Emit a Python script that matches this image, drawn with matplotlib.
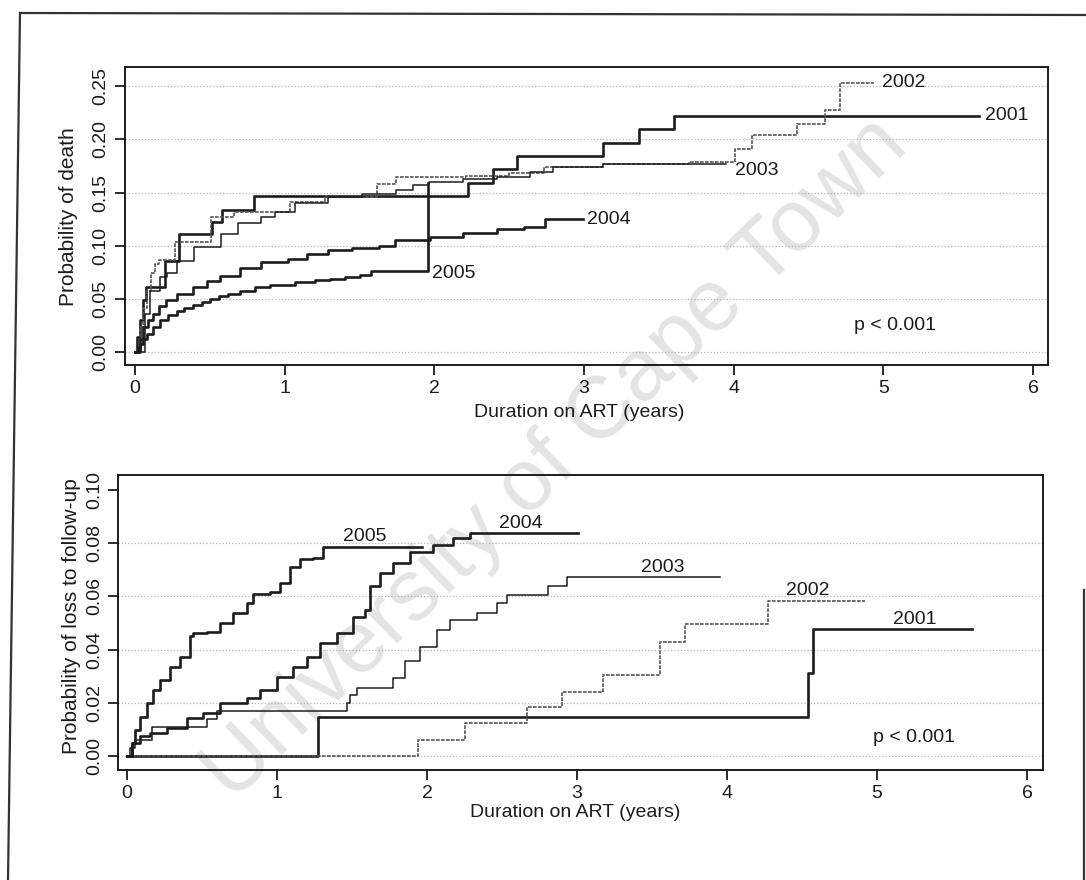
import matplotlib
matplotlib.use("Agg")
import matplotlib.pyplot as plt
from matplotlib.lines import Line2D

plt.rcParams['font.family'] = ['Liberation Sans', 'DejaVu Sans']

years = ['2001', '2002', '2003', '2004', '2005']

# cumulative probability of death (Kaplan-Meier, read per cohort)
t_death_2001 = [0, 0.016, 0.034, 0.056, 0.074, 0.202, 0.292, 0.517, 0.584, 0.798, 2.225, 2.393, 2.551, 3.13, 3.37, 3.60, 5.64]
p_death_2001 = [0, 0.014, 0.030, 0.049, 0.061, 0.086, 0.111, 0.122, 0.134, 0.147, 0.159, 0.172, 0.184, 0.197, 0.210, 0.222, 0.222]

t_death_2002 = [0, 0.034, 0.056, 0.079, 0.106, 0.135, 0.157, 0.270, 0.506, 0.663, 1.034, 1.270, 1.618, 1.742, 2.213, 2.50, 2.730, 3.13, 3.70, 4.01, 4.12, 4.42, 4.61, 4.71, 4.94]
p_death_2002 = [0, 0.0235, 0.042, 0.058, 0.074, 0.083, 0.087, 0.1035, 0.127, 0.132, 0.141, 0.146, 0.158, 0.165, 0.166, 0.168, 0.174, 0.177, 0.179, 0.191, 0.204, 0.214, 0.228, 0.253, 0.253]

t_death_2003 = [0, 0.067, 0.101, 0.169, 0.213, 0.281, 0.393, 0.573, 0.685, 0.843, 0.933, 1.067, 1.292, 1.517, 1.742, 1.854, 1.966, 2.191, 2.416, 2.640, 2.79, 3.13, 3.95]
p_death_2003 = [0, 0.036, 0.058, 0.071, 0.074, 0.086, 0.099, 0.111, 0.121, 0.127, 0.132, 0.140, 0.146, 0.149, 0.152, 0.157, 0.160, 0.163, 0.165, 0.169, 0.174, 0.177, 0.177]

t_death_2004 = [0, 0.03, 0.056, 0.09, 0.12, 0.16, 0.21, 0.28, 0.39, 0.48, 0.57, 0.70, 0.84, 1.02, 1.15, 1.29, 1.45, 1.63, 1.74, 1.97, 2.19, 2.42, 2.60, 2.74, 2.99]
p_death_2004 = [0, 0.012, 0.0235, 0.030, 0.036, 0.043, 0.049, 0.055, 0.061, 0.067, 0.072, 0.079, 0.085, 0.088, 0.092, 0.096, 0.098, 0.100, 0.105, 0.108, 0.112, 0.116, 0.118, 0.125, 0.125]

t_death_2005 = [0, 0.02, 0.034, 0.05, 0.08, 0.12, 0.17, 0.22, 0.28, 0.33, 0.39, 0.45, 0.50, 0.56, 0.62, 0.70, 0.80, 0.90, 1.07, 1.20, 1.30, 1.40, 1.50, 1.58, 1.955, 1.955]
p_death_2005 = [0, 0.004, 0.008, 0.012, 0.017, 0.024, 0.030, 0.035, 0.039, 0.042, 0.044, 0.047, 0.050, 0.053, 0.055, 0.058, 0.061, 0.063, 0.066, 0.068, 0.069, 0.071, 0.073, 0.076, 0.076, 0.159]

# cumulative probability of loss to follow-up
t_ltfu_2001 = [0, 1.276, 4.542, 4.575, 5.631]
p_ltfu_2001 = [0, 0.0148, 0.0313, 0.0476, 0.0476]

t_ltfu_2002 = [0, 1.942, 2.253, 2.664, 2.898, 3.176, 3.553, 3.72, 4.276, 4.92]
p_ltfu_2002 = [0, 0.006, 0.0123, 0.0185, 0.0242, 0.0305, 0.043, 0.0495, 0.0584, 0.0584]

t_ltfu_2003 = [0, 0.02, 0.05, 0.164, 0.531, 0.598, 1.464, 1.487, 1.531, 1.776, 1.853, 1.953, 2.064, 2.153, 2.331, 2.464, 2.531, 2.809, 2.931, 3.953]
p_ltfu_2003 = [0, 0.003, 0.006, 0.011, 0.0138, 0.017, 0.0198, 0.0229, 0.0254, 0.0292, 0.0355, 0.0411, 0.0474, 0.0511, 0.0536, 0.0574, 0.0605, 0.0639, 0.0672, 0.0672]

t_ltfu_2004 = [0, 0.031, 0.087, 0.153, 0.264, 0.398, 0.509, 0.620, 0.798, 0.887, 0.998, 1.109, 1.198, 1.287, 1.398, 1.509, 1.587, 1.62, 1.687, 1.776, 1.887, 2.042, 2.176, 2.287, 3.007]
p_ltfu_2004 = [0, 0.0048, 0.0073, 0.0085, 0.0104, 0.0142, 0.0160, 0.0198, 0.0217, 0.0248, 0.0298, 0.0336, 0.0373, 0.0424, 0.0461, 0.0524, 0.0549, 0.0637, 0.0687, 0.0724, 0.0768, 0.0793, 0.0818, 0.0837, 0.0837]

t_ltfu_2005 = [0, 0.031, 0.053, 0.087, 0.131, 0.176, 0.22, 0.287, 0.353, 0.42, 0.442, 0.531, 0.62, 0.709, 0.798, 0.842, 0.953, 1.02, 1.087, 1.153, 1.242, 1.309, 1.964]
p_ltfu_2005 = [0, 0.0048, 0.0098, 0.0148, 0.0198, 0.0248, 0.0286, 0.0336, 0.0373, 0.0449, 0.0461, 0.0467, 0.0499, 0.0536, 0.0574, 0.0609, 0.0618, 0.0649, 0.0712, 0.0739, 0.0743, 0.0787, 0.0787]

death = {'2001': (t_death_2001, p_death_2001), '2002': (t_death_2002, p_death_2002),
         '2003': (t_death_2003, p_death_2003), '2004': (t_death_2004, p_death_2004),
         '2005': (t_death_2005, p_death_2005)}
ltfu = {'2001': (t_ltfu_2001, p_ltfu_2001), '2002': (t_ltfu_2002, p_ltfu_2002),
        '2003': (t_ltfu_2003, p_ltfu_2003), '2004': (t_ltfu_2004, p_ltfu_2004),
        '2005': (t_ltfu_2005, p_ltfu_2005)}

death_ticks = [0.00, 0.05, 0.10, 0.15, 0.20, 0.25]
ltfu_ticks = [0.00, 0.02, 0.04, 0.06, 0.08, 0.10]
x_ticks = [0, 1, 2, 3, 4, 5, 6]

INK = '#1c1c1c'
styles = {
    '2001': dict(color=INK, lw=1.9),
    '2002': dict(color='#555555', lw=1.2, ls=(0, (2.2, 0.8))),
    '2003': dict(color=INK, lw=1.1),
    '2004': dict(color=INK, lw=1.9),
    '2005': dict(color=INK, lw=1.9),
}

fig = plt.figure(figsize=(10.86, 8.8), dpi=100)

# watermark behind the panels
fig.text(0.512, 0.478, 'University of Cape Town', fontsize=63, color='#e4e4e4',
         rotation=44, ha='center', va='center', zorder=-5)

# scanned page frame
frame = dict(color='#333333', lw=1.6, transform=fig.transFigure)
fig.add_artist(Line2D([20 / 1086, 1.0], [1 - 13 / 880, 1 - 15 / 880], **frame))
fig.add_artist(Line2D([20 / 1086, 8 / 1086], [1 - 13 / 880, 0.0], **frame))
fig.add_artist(Line2D([1084 / 1086, 1084 / 1086], [1 - 590 / 880, 0.0], **frame))

ax1 = fig.add_axes([0.1151, 0.5852, 0.8499, 0.3387])
ax2 = fig.add_axes([0.1087, 0.1250, 0.8517, 0.3352])


def style_axis(ax, yticks, ylim, grid_levels):
    ax.patch.set_visible(False)
    ax.set_xlim(-0.067, 6.10)
    ax.set_ylim(*ylim)
    ax.set_xticks(x_ticks)
    ax.set_xticklabels([str(v) for v in x_ticks])
    ax.set_yticks(yticks)
    ax.set_yticklabels(['%.2f' % v for v in yticks], rotation=90, va='center')
    ax.tick_params(direction='out', length=7, width=1.3, colors=INK,
                   labelsize=14, pad=4)
    for s in ax.spines.values():
        s.set_linewidth(1.4)
        s.set_color(INK)
    for g in grid_levels:
        ax.axhline(g, color='#b4b4b4', lw=0.9, ls=(0, (1, 1.6)), zorder=0)


style_axis(ax1, death_ticks, (-0.012, 0.268), death_ticks)
style_axis(ax2, ltfu_ticks, (-0.0053, 0.1056), ltfu_ticks[:-1])
ax2.set_xlim(-0.06, 6.107)

# probability of death
for y in years:
    t, p = death[y]
    ax1.plot(t, p, drawstyle='steps-post', **styles[y])

death_label_pos = {'2001': (0.04, 0.0), '2002': (0.05, 0.0), '2003': (0.06, -0.006),
                   '2004': (0.03, 0.0)}
for y, (dx, dy) in death_label_pos.items():
    t, p = death[y]
    ax1.text(t[-1] + dx, p[-1] + dy, y, fontsize=14, color=INK, ha='left', va='center')
ax1.text(t_death_2005[-1] + 0.03, p_death_2005[-2] - 0.002, '2005', fontsize=14,
         color=INK, ha='left', va='center')
ax1.text(5.08, 0.025, 'p < 0.001', fontsize=14, color=INK, ha='center', va='center')
ax1.text(-0.061, 0.497, 'Probability of death', transform=ax1.transAxes,
         rotation=90, ha='center', va='center', fontsize=15, color=INK)
ax1.text(0.492, -0.16, 'Duration on ART (years)', transform=ax1.transAxes,
         ha='center', va='center', fontsize=14, color=INK)

# probability of loss to follow-up
for y in years:
    t, p = ltfu[y]
    ax2.plot(t, p, drawstyle='steps-post', **styles[y])
    ax2.text(t[-1] - 0.38, p[-1] + 0.0006, y, fontsize=14, color=INK,
             ha='center', va='bottom')
ax2.text(5.25, 0.0071, 'p < 0.001', fontsize=14, color=INK, ha='center', va='center')
ax2.text(-0.05, 0.52, 'Probability of loss to follow-up', transform=ax2.transAxes,
         rotation=90, ha='center', va='center', fontsize=15, color=INK)
ax2.text(0.494, -0.145, 'Duration on ART (years)', transform=ax2.transAxes,
         ha='center', va='center', fontsize=14, color=INK)

fig.savefig('out.png', dpi=100)
